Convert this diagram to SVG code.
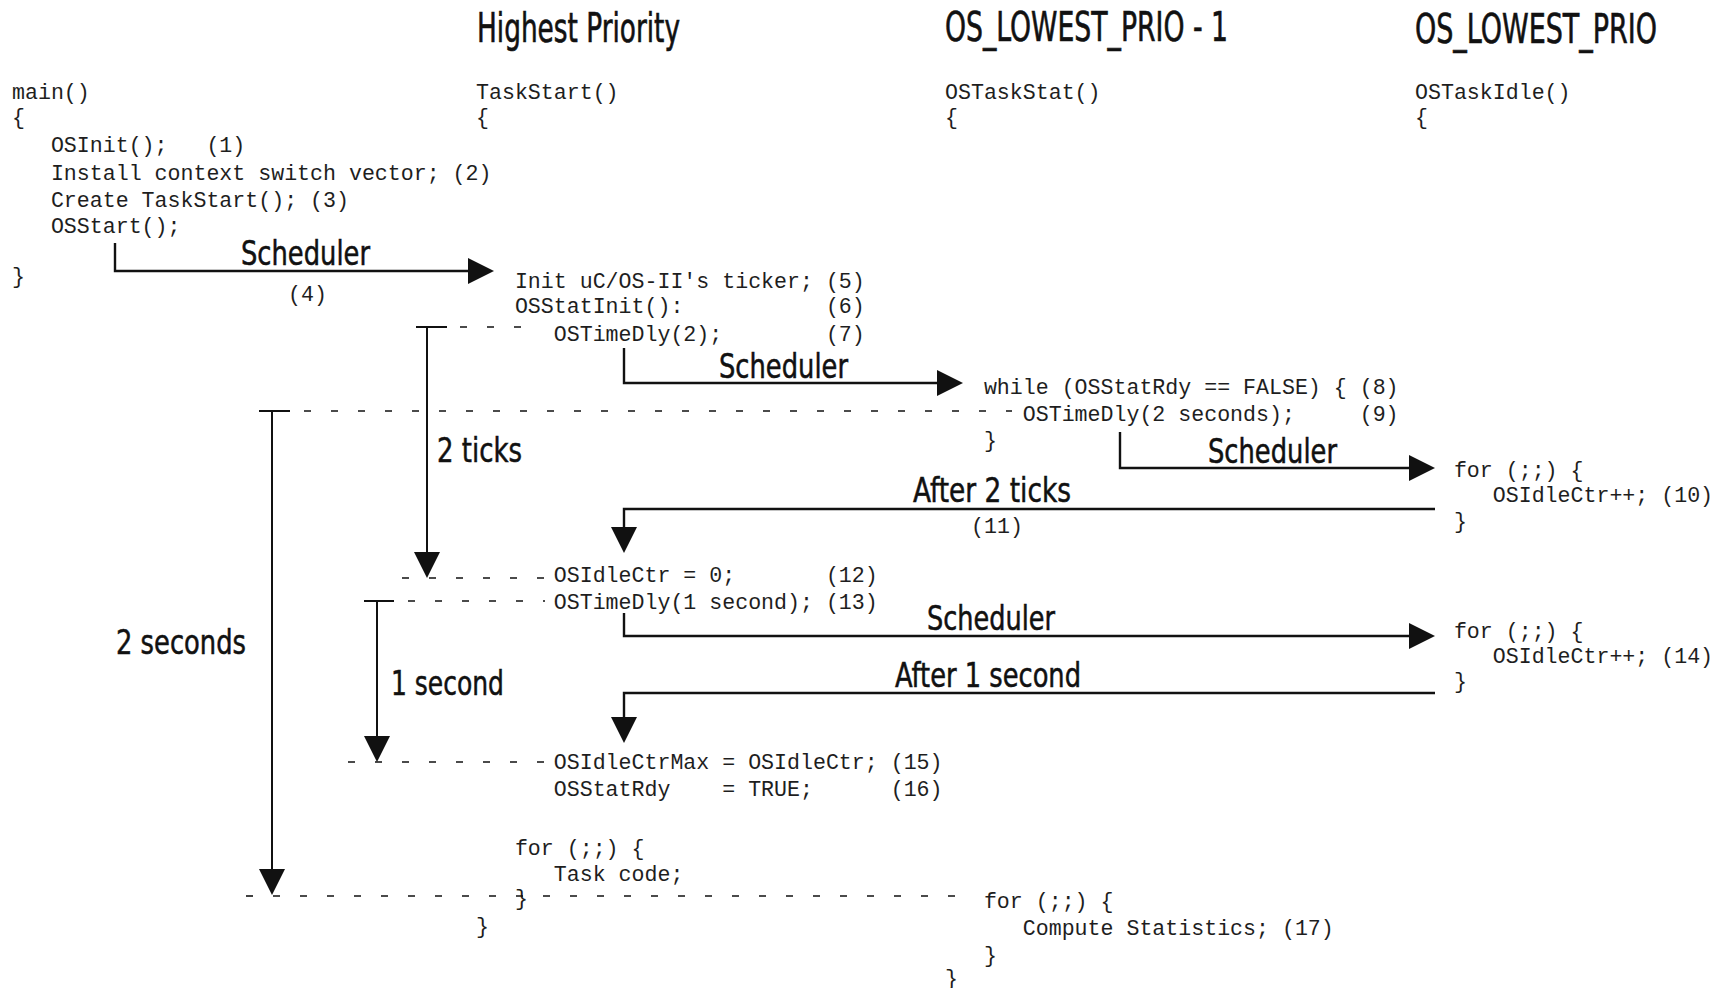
<svg xmlns="http://www.w3.org/2000/svg" width="1728" height="988" viewBox="0 0 1728 988">
  <style>
    .code { font-family: "Liberation Mono", "DejaVu Sans Mono", monospace; font-size: 21.6px; fill: #1e1e1e; white-space: pre; }
    .head { font-family: "Liberation Sans Narrow", "DejaVu Sans Condensed", "Liberation Sans", sans-serif; font-size: 40px; fill: #111; stroke: #111; stroke-width: 0.6; }
    .lbl { font-family: "Liberation Sans Narrow", "DejaVu Sans Condensed", "Liberation Sans", sans-serif; font-size: 34px; fill: #111; stroke: #111; stroke-width: 0.5; }
    .wire { fill: none; stroke: #111; stroke-width: 2.4; }
    .tick { fill: none; stroke: #111; stroke-width: 2; }
    .dash { fill: none; stroke: #111; stroke-width: 1.6; stroke-dasharray: 7 20; }
  </style>
  <defs>
    <marker id="head" viewBox="0 0 26 26" refX="2" refY="13" markerWidth="26" markerHeight="26" markerUnits="userSpaceOnUse" orient="auto">
      <path d="M0,0 L26,13 L0,26 Z" fill="#111"/>
    </marker>
  </defs>
  <rect width="1728" height="988" fill="#fff"/>

  <!-- priority headings (condensed horizontally) -->
  <g id="headers">
    <text class="head" transform="translate(477,42) scale(0.8,1)" x="0" y="0" textLength="253.75" lengthAdjust="spacingAndGlyphs">Highest Priority</text>
    <text class="head" transform="translate(945,41) scale(0.8,1)" x="0" y="0" textLength="353.75" lengthAdjust="spacingAndGlyphs">OS_LOWEST_PRIO - 1</text>
    <text class="head" transform="translate(1415,43) scale(0.8,1)" x="0" y="0" textLength="302.5" lengthAdjust="spacingAndGlyphs">OS_LOWEST_PRIO</text>
  </g>

  <!-- main() -->
  <g id="main">
    <text class="code" x="12" y="99">main()</text>
    <text class="code" x="12" y="124">{</text>
    <text class="code" x="12" y="152" xml:space="preserve">   OSInit();   (1)</text>
    <text class="code" x="12" y="180" xml:space="preserve">   Install context switch vector; (2)</text>
    <text class="code" x="12" y="207" xml:space="preserve">   Create TaskStart(); (3)</text>
    <text class="code" x="12" y="233" xml:space="preserve">   OSStart();</text>
    <text class="code" x="12" y="283">}</text>
  </g>

  <!-- TaskStart() -->
  <g id="task-start">
    <text class="code" x="476" y="99">TaskStart()</text>
    <text class="code" x="476" y="124">{</text>
    <text class="code" x="476" y="288" xml:space="preserve">   Init uC/OS-II's ticker; (5)</text>
    <text class="code" x="476" y="313" xml:space="preserve">   OSStatInit():           (6)</text>
    <text class="code" x="476" y="341" xml:space="preserve">      OSTimeDly(2);        (7)</text>
    <text class="code" x="476" y="582" xml:space="preserve">      OSIdleCtr = 0;       (12)</text>
    <text class="code" x="476" y="609" xml:space="preserve">      OSTimeDly(1 second); (13)</text>
    <text class="code" x="476" y="769" xml:space="preserve">      OSIdleCtrMax = OSIdleCtr; (15)</text>
    <text class="code" x="476" y="796" xml:space="preserve">      OSStatRdy    = TRUE;      (16)</text>
    <text class="code" x="476" y="855" xml:space="preserve">   for (;;) {</text>
    <text class="code" x="476" y="881" xml:space="preserve">      Task code;</text>
    <text class="code" x="476" y="905" xml:space="preserve">   }</text>
    <text class="code" x="476" y="933">}</text>
  </g>

  <!-- OSTaskStat() -->
  <g id="task-stat">
    <text class="code" x="945" y="99">OSTaskStat()</text>
    <text class="code" x="945" y="124">{</text>
    <text class="code" x="945" y="394" xml:space="preserve">   while (OSStatRdy == FALSE) { (8)</text>
    <text class="code" x="945" y="421" xml:space="preserve">      OSTimeDly(2 seconds);     (9)</text>
    <text class="code" x="945" y="447" xml:space="preserve">   }</text>
    <text class="code" x="945" y="908" xml:space="preserve">   for (;;) {</text>
    <text class="code" x="945" y="935" xml:space="preserve">      Compute Statistics; (17)</text>
    <text class="code" x="945" y="962" xml:space="preserve">   }</text>
    <text class="code" x="945" y="985">}</text>
  </g>

  <!-- OSTaskIdle() -->
  <g id="task-idle">
    <text class="code" x="1415" y="99">OSTaskIdle()</text>
    <text class="code" x="1415" y="124">{</text>
    <text class="code" x="1415" y="477" xml:space="preserve">   for (;;) {</text>
    <text class="code" x="1415" y="502" xml:space="preserve">      OSIdleCtr++; (10)</text>
    <text class="code" x="1415" y="528" xml:space="preserve">   }</text>
    <text class="code" x="1415" y="638" xml:space="preserve">   for (;;) {</text>
    <text class="code" x="1415" y="663" xml:space="preserve">      OSIdleCtr++; (14)</text>
    <text class="code" x="1415" y="688" xml:space="preserve">   }</text>
  </g>

  <!-- context switches -->
  <g id="connectors">
    <path class="wire" d="M115,243 V271 H470" marker-end="url(#head)"/>
    <path class="wire" d="M624,348 V383 H939" marker-end="url(#head)"/>
    <path class="wire" d="M1120,432 V468 H1411" marker-end="url(#head)"/>
    <path class="wire" d="M1435,509 H624 V529" marker-end="url(#head)"/>
    <path class="wire" d="M624,613 V636 H1411" marker-end="url(#head)"/>
    <path class="wire" d="M1435,693 H624 V719" marker-end="url(#head)"/>
  </g>

  <!-- delay intervals -->
  <g id="timing">
    <path class="tick" d="M416,327 H447"/>
    <path class="tick" d="M427,327 V554" marker-end="url(#head)"/>
    <path class="tick" d="M259,411 H290"/>
    <path class="tick" d="M272,411 V871" marker-end="url(#head)"/>
    <path class="tick" d="M364,601 H394"/>
    <path class="tick" d="M377,601 V738" marker-end="url(#head)"/>
    <path class="dash" d="M460,327 H532"/>
    <path class="dash" d="M304,411 H1012"/>
    <path class="dash" d="M402,578 H545"/>
    <path class="dash" d="M408,601 H545"/>
    <path class="dash" d="M348,762 H545"/>
    <path class="dash" d="M246,896 H975"/>
  </g>

  <!-- transition labels -->
  <g id="labels">
    <text class="lbl" x="241" y="265" textLength="129" lengthAdjust="spacingAndGlyphs">Scheduler</text>
    <text class="code" x="288" y="301">(4)</text>
    <text class="lbl" x="719" y="378" textLength="129" lengthAdjust="spacingAndGlyphs">Scheduler</text>
    <text class="lbl" x="1208" y="463" textLength="129" lengthAdjust="spacingAndGlyphs">Scheduler</text>
    <text class="lbl" x="913" y="502" textLength="158" lengthAdjust="spacingAndGlyphs">After 2 ticks</text>
    <text class="code" x="971" y="533">(11)</text>
    <text class="lbl" x="927" y="630" textLength="128" lengthAdjust="spacingAndGlyphs">Scheduler</text>
    <text class="lbl" x="895" y="687" textLength="186" lengthAdjust="spacingAndGlyphs">After 1 second</text>
    <text class="lbl" x="437" y="462" textLength="85" lengthAdjust="spacingAndGlyphs">2 ticks</text>
    <text class="lbl" x="116" y="654" textLength="130" lengthAdjust="spacingAndGlyphs">2 seconds</text>
    <text class="lbl" x="391" y="695" textLength="113" lengthAdjust="spacingAndGlyphs">1 second</text>
  </g>
</svg>
